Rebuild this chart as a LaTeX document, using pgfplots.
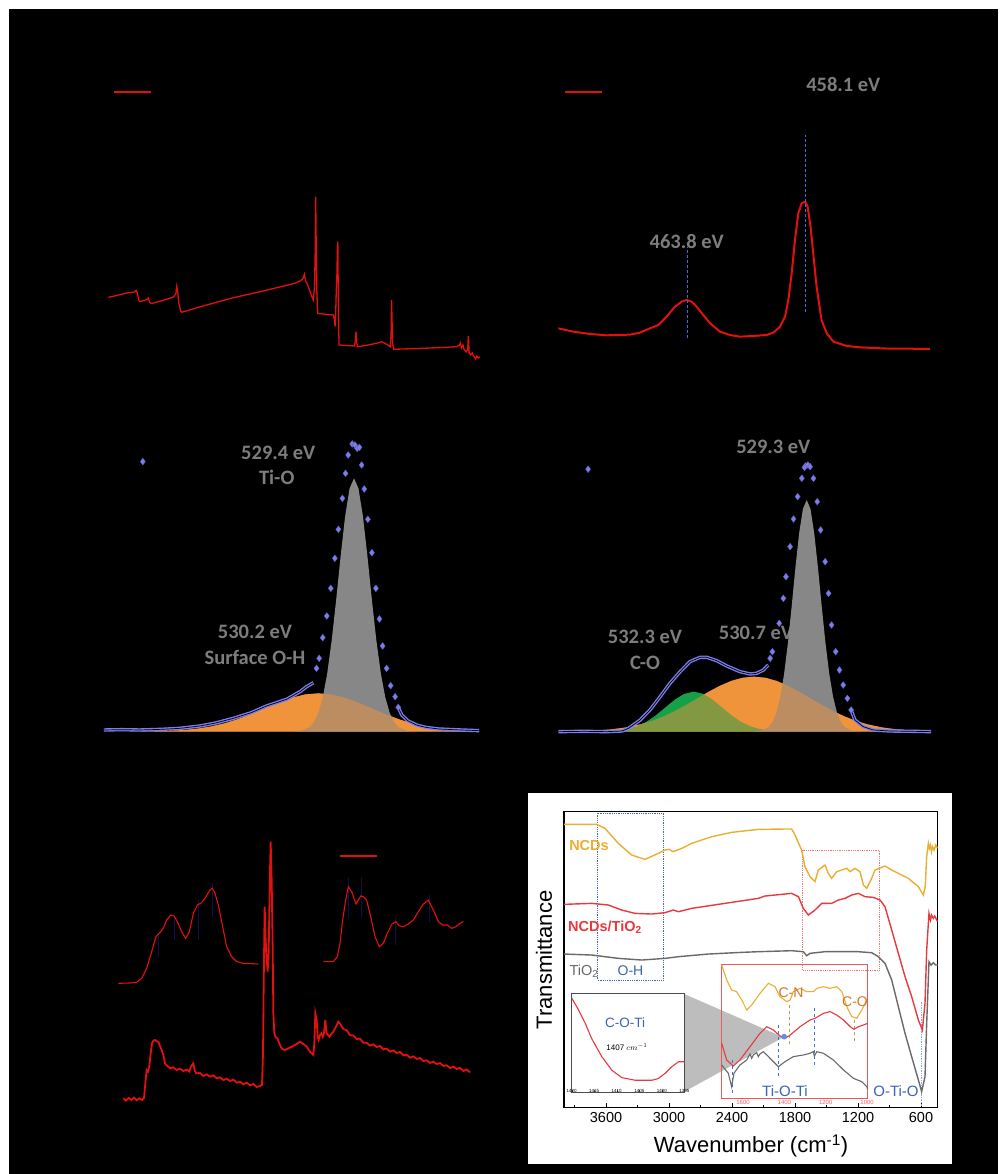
\documentclass[border=0pt]{standalone}
\usepackage{pgfplots}
\pgfplotsset{compat=1.18}
\usepackage{fontspec}
\setmainfont{Liberation Sans}
\newfontfamily\calb{Carlito}
\definecolor{xpsred}{RGB}{228,16,16}
\definecolor{grfill}{RGB}{135,135,135}
\definecolor{orfill}{RGB}{240,148,60}
\definecolor{gnfill}{RGB}{22,160,72}
\definecolor{bluept}{RGB}{125,125,240}
\definecolor{lblgray}{RGB}{125,125,125}
\definecolor{ncdor}{RGB}{234,174,48}
\definecolor{ncdred}{RGB}{232,58,62}
\definecolor{tigray}{RGB}{105,105,105}
\definecolor{txtblue}{RGB}{58,100,178}
\definecolor{cnbrown}{RGB}{205,120,40}
\definecolor{dashblue}{RGB}{60,110,220}
\definecolor{ohblue}{RGB}{70,100,170}
\definecolor{navyl}{RGB}{15,15,80}
\newcommand{\lbl}[1]{{\calb\bfseries\fontsize{20.5}{24}\selectfont\color{lblgray}#1}}
\pgfplotsset{
  xps/.style={anchor=south west, scale only axis, hide axis, x dir=reverse,
    legend style={draw=none, fill=none, inner sep=0pt, outer sep=0pt, anchor=west,
      nodes={inner sep=0pt, text=black, font=\fontsize{5}{6}\selectfont}},
  },
  lineleg/.style={legend image code/.code={\draw[##1] (0pt,0pt) -- (37pt,0pt);}},
  markleg/.style={legend image code/.code={\draw[##1] plot coordinates {(0pt,0pt)};}},
}
\begin{document}
\begin{tikzpicture}
\path[use as bounding box] (0pt,0pt) rectangle (999pt,1174pt);
\fill[white] (0pt,0pt) rectangle (999pt,1174pt);
\fill[black] (9pt,0pt) rectangle (998pt,1165pt);

%%%%%%%%%%%%%%%% (a) survey
\begin{axis}[xps, lineleg, at={(108.3pt,804pt)}, width=371.7pt, height=300pt,
  xmin=0, xmax=1200, ymin=30, ymax=330,
  legend style={at={(0.0126,0.927)}}]
\addplot[xpsred, line width=1.3pt] coordinates {
(1200,102.7) (1180,104) (1160,105.5) (1140,107) (1125,107.5) (1115,108) (1110,109.5) (1106,107) (1102,100) (1098,98.5) (1085,99.5) (1075,100.5) (1071,102) (1066,97.5) (1060,96.5) (1030,99) (1001,101.7) (990,103) (982,106) (979,113.5) (976,108) (972,96) (966,88.5) (963,87.7) (900,93.5) (800,102) (700,109) (600,116.5) (581,119) (572,121) (567,125.7) (563,119) (559,116.7) (550,110) (545,105) (538,100) (534,115) (532,150) (530.5,203.3) (529,160) (527,110) (524,86.7) (510,86) (490,85.5) (473,85) (470,80) (468,73.3) (466,85) (464,110) (462,125) (460.5,150) (459,158.3) (458,120) (456,70) (455,55) (430,54.5) (405,54) (402,60) (400.5,68.3) (399,60) (396,53.3) (360,55) (330,57) (317,58.3) (300,55.5) (290,53.3) (287,65) (285.5,100) (284,80) (282,56) (278,50.7) (200,51.5) (120,52.5) (75,53.3) (66,55) (63,57) (60,52) (55,55) (52,51) (45,48) (40,50) (37.5,64) (35,47) (30,45) (25,47) (22,44) (18,43) (14,41) (10,44) (5,42) (0,43)};
\addlegendentry{NCDs/TiO\textsubscript{2}}
\end{axis}

%%%%%%%%%%%%%%%% (b) Ti 2p
\begin{axis}[xps, lineleg, at={(558.3pt,804pt)}, width=373.7pt, height=300pt,
  xmin=452, xmax=470, ymin=70, ymax=970,
  legend style={at={(0.0153,0.928)}}]
\addplot[xpsred, line width=2pt] coordinates {
(470.00,195) (469.28,185) (468.47,178) (467.67,174) (466.55,176) (466.07,182) (465.58,195) (465.18,205) (464.78,230) (464.38,260) (464.06,275) (463.82,280) (463.58,275) (463.34,260) (463.02,235) (462.69,210) (462.21,185) (461.73,175) (461.25,170) (460.61,172) (459.96,175) (459.64,182) (459.32,200) (459.08,230) (458.92,280) (458.76,360) (458.60,460) (458.44,540) (458.28,570) (458.12,575) (457.99,560) (457.85,500) (457.72,420) (457.56,320) (457.32,220) (457.07,180) (456.75,155) (456.11,142) (455.47,138) (454.83,136) (454.02,134) (453.22,134) (452.10,133)};
\addlegendentry{Ti 2p}
\addplot[dashblue, densely dashed, line width=0.8pt, forget plot] coordinates {(458.1,245) (458.1,775)};
\addplot[dashblue, densely dashed, line width=0.8pt, forget plot] coordinates {(463.8,165) (463.8,440)};
\end{axis}
\node at (843.3pt,1089pt) {\lbl{458.1 eV}};
\node at (686.7pt,932.3pt) {\lbl{463.8 eV}};

%%%%%%%%%%%%%%%% (c) O 1s TiO2
\node at (278.3pt,721.3pt) {\lbl{529.4 eV}};
\node at (276.7pt,696.7pt) {\lbl{Ti-O}};
\node at (255pt,542.3pt) {\lbl{530.2 eV}};
\node at (255pt,516.3pt) {\lbl{Surface O-H}};
\begin{axis}[xps, markleg, at={(103.9pt,424pt)}, width=375.2pt, height=330pt,
  xmin=526.6, xmax=535, ymin=10, ymax=1000,
  legend style={at={(0.097,0.874)}}]
\addplot[fill=orfill, draw=none, forget plot] coordinates {(534.4,65) (534.0,65.8) (533.6,67.1) (533.2,70.1) (532.9,74.2) (532.6,80.6) (532.3,89.9) (532.0,102.4) (531.7,117.7) (531.4,134.8) (531.1,151.8) (530.8,166.5) (530.5,176.5) (530.2,180) (529.9,176.5) (529.6,166.5) (529.3,151.8) (529.0,134.8) (528.7,117.7) (528.4,102.4) (528.1,89.9) (527.8,80.6) (527.5,74.2) (527.2,70.1) (526.8,67.1) (526.4,65.8) (526.0,65)};
\addplot[fill=grfill, draw=none, forget plot] coordinates {(530.8,65) (530.6,67.1) (530.4,77.8) (530.3,92.9) (530.2,120.8) (530.1,167.9) (530.0,240) (529.9,338.8) (529.8,460.4) (529.7,591.7) (529.6,710.5) (529.5,794.6) (529.4,825) (529.3,794.6) (529.2,710.5) (529.1,591.7) (529.0,460.4) (528.9,338.8) (528.8,240) (528.7,167.9) (528.6,120.8) (528.5,92.9) (528.4,77.8) (528.2,67.1) (528.0,65)};
\addplot[fill=orfill, fill opacity=0.5, draw=none, forget plot] coordinates {(534.4,65) (534.0,65.8) (533.6,67.1) (533.2,70.1) (532.9,74.2) (532.6,80.6) (532.3,89.9) (532.0,102.4) (531.7,117.7) (531.4,134.8) (531.1,151.8) (530.8,166.5) (530.5,176.5) (530.2,180) (529.9,176.5) (529.6,166.5) (529.3,151.8) (529.0,134.8) (528.7,117.7) (528.4,102.4) (528.1,89.9) (527.8,80.6) (527.5,74.2) (527.2,70.1) (526.8,67.1) (526.4,65.8) (526.0,65)};
\addplot[bluept, line width=3.4pt, forget plot] coordinates {(535,70) (534.6,71) (534.2,70) (533.7,72) (533.3,75) (532.85,82) (532.5,91) (532.1,105) (531.7,122) (531.36,142) (530.91,162) (530.61,185) (530.46,200) (530.31,212)};
\addplot[black, line width=0.7pt, forget plot] coordinates {(535,70) (534.6,71) (534.2,70) (533.7,72) (533.3,75) (532.85,82) (532.5,91) (532.1,105) (531.7,122) (531.36,142) (530.91,162) (530.61,185) (530.46,200) (530.31,212)};
\addplot[bluept, line width=3.4pt, forget plot] coordinates {(528.41,138) (528.33,115) (528.2,98) (528.0,85) (527.8,78) (527.5,73) (527.0,70) (526.6,68)};
\addplot[black, line width=0.7pt, forget plot] coordinates {(528.41,138) (528.33,115) (528.2,98) (528.0,85) (527.8,78) (527.5,73) (527.0,70) (526.6,68)};
\addplot[only marks, mark=diamond*, mark size=3.4pt, mark options={fill=bluept, draw=bluept!75!black, line width=0.4pt}] coordinates {
(530.24,255) (530.18,285) (530.10,347) (530.01,412) (529.92,495) (529.83,585) (529.75,672) (529.66,765) (529.59,840) (529.53,895) (529.44,928) (529.38,925) (529.33,915) (529.28,918) (529.23,865) (529.17,793) (529.09,702) (529.0,602) (528.91,495) (528.83,403) (528.76,322) (528.67,255) (528.58,203) (528.48,170) (528.41,138)};
\addlegendentry{O 1s}
\end{axis}

%%%%%%%%%%%%%%%% (d) O 1s NCDs/TiO2
\node at (773.3pt,727.3pt) {\lbl{529.3 eV}};
\node at (645pt,536.7pt) {\lbl{532.3 eV}};
\node at (645pt,511.3pt) {\lbl{C-O}};
\node at (756pt,540.7pt) {\lbl{530.7 eV}};
\begin{axis}[xps, markleg, at={(554.3pt,424pt)}, width=376.7pt, height=330pt,
  xmin=526, xmax=536, ymin=10, ymax=1000,
  legend style={at={(0.083,0.851)}}]
\addplot[fill=orfill, draw=none, forget plot] coordinates {(535.9,65) (535.4,66.2) (534.9,68.3) (534.5,71.7) (534.1,77.6) (533.7,87.3) (533.4,97.7) (533.1,110.9) (532.8,126.9) (532.5,145.3) (532.2,165.1) (531.9,184.8) (531.6,202.8) (531.3,217.3) (531.0,226.7) (530.7,230) (530.4,226.7) (530.1,217.3) (529.8,202.8) (529.5,184.8) (529.2,165.1) (528.9,145.3) (528.6,126.9) (528.3,110.9) (528.0,97.7) (527.7,87.3) (527.3,77.6) (526.9,71.7) (526.5,68.3) (526.0,65)};
\addplot[fill=gnfill, draw=none, forget plot] coordinates {(534.7,65) (534.3,68.4) (534.05,72.9) (533.8,81.2) (533.55,94.9) (533.3,114.3) (533.05,137.8) (532.8,161.1) (532.55,178.5) (532.3,185) (532.05,178.5) (531.8,161.1) (531.55,137.8) (531.3,114.3) (531.05,94.9) (530.8,81.2) (530.55,72.9) (530.3,68.4) (529.9,65.7) (529.5,65)};
\addplot[fill=grfill, draw=none, forget plot] coordinates {(530.7,65) (530.5,67.7) (530.3,79.7) (530.2,95.5) (530.1,123.9) (530.0,170) (529.9,238.1) (529.8,329.8) (529.7,439.6) (529.6,556.4) (529.5,660.6) (529.4,733.6) (529.3,760) (529.2,733.6) (529.1,660.6) (529.0,556.4) (528.9,439.6) (528.8,329.8) (528.7,238.1) (528.6,170) (528.5,123.9) (528.4,95.5) (528.3,79.7) (528.1,67.7) (527.9,65)};
\addplot[fill=orfill, fill opacity=0.5, draw=none, forget plot] coordinates {(535.9,65) (535.4,66.2) (534.9,68.3) (534.5,71.7) (534.1,77.6) (533.7,87.3) (533.4,97.7) (533.1,110.9) (532.8,126.9) (532.5,145.3) (532.2,165.1) (531.9,184.8) (531.6,202.8) (531.3,217.3) (531.0,226.7) (530.7,230) (530.4,226.7) (530.1,217.3) (529.8,202.8) (529.5,184.8) (529.2,165.1) (528.9,145.3) (528.6,126.9) (528.3,110.9) (528.0,97.7) (527.7,87.3) (527.3,77.6) (526.9,71.7) (526.5,68.3) (526.0,65)};
\addplot[bluept, line width=3.4pt, forget plot] coordinates {(535.89,65) (535.2,66) (534.6,65) (534.2,67) (534.03,75) (533.72,100) (533.46,130) (533.19,170) (532.93,210) (532.66,245) (532.40,275) (532.13,288) (531.95,288) (531.69,278) (531.42,262) (531.07,245) (530.80,238) (530.63,240) (530.45,250) (530.32,265)};
\addplot[black, line width=0.7pt, forget plot] coordinates {(535.89,65) (535.2,66) (534.6,65) (534.2,67) (534.03,75) (533.72,100) (533.46,130) (533.19,170) (532.93,210) (532.66,245) (532.40,275) (532.13,288) (531.95,288) (531.69,278) (531.42,262) (531.07,245) (530.80,238) (530.63,240) (530.45,250) (530.32,265)};
\addplot[bluept, line width=3.4pt, forget plot] coordinates {(528.12,130) (528.02,100) (527.80,80) (527.53,70) (527.09,67) (526.5,66) (525.98,65)};
\addplot[black, line width=0.7pt, forget plot] coordinates {(528.12,130) (528.02,100) (527.80,80) (527.53,70) (527.09,67) (526.5,66) (525.98,65)};
\addplot[only marks, mark=diamond*, mark size=3.4pt, mark options={fill=bluept, draw=bluept!75!black, line width=0.4pt}] coordinates {
(530.27,285) (530.21,305) (530.03,390) (529.92,465) (529.85,530) (529.74,620) (529.65,703) (529.54,770) (529.43,825) (529.36,858) (529.33,862) (529.27,865) (529.21,860) (529.12,825) (529.02,755) (528.93,670) (528.81,575) (528.72,480) (528.64,385) (528.53,305) (528.43,250) (528.33,205) (528.22,165) (528.12,130)};
\addlegendentry{O 1s}
\end{axis}

%%%%%%%%%%%%%%%% (e)
\begin{axis}[xps, lineleg, x dir=normal, at={(100pt,54pt)}, width=400pt, height=300pt,
  xmin=0, xmax=1200, ymin=100, ymax=1000,
  legend style={at={(0.5975,0.88)}}]
\addplot[xpsred, line width=1.8pt] coordinates {
(70,165) (78,158) (86,166) (94,160) (102,167) (110,159) (118,165) (126,160) (132,166) (136,210) (140,250) (144,245) (148,262) (152,300) (156,330) (160,338) (165,340) (170,336) (175,335) (180,322) (185,310) (190,295) (195,270) (200,264) (210,255) (220,258) (230,250) (240,254) (250,247) (260,251) (268,245) (272,258) (276,265) (280,270) (284,250) (288,240) (300,241) (310,232) (320,237) (330,230) (340,234) (350,225) (360,228) (370,220) (380,224) (390,217) (400,221) (410,212) (420,215) (430,207) (440,212) (450,204) (460,208) (470,199) (480,202) (486,205) (489,300) (491,500) (494,740) (497,640) (500,580) (503,545) (506,600) (509,800) (512,935) (515,820) (518,620) (520,420) (523,360) (527,348) (532,345) (538,330) (543,318) (548,312) (555,310) (565,315) (575,320) (590,328) (600,335) (610,328) (620,320) (630,305) (640,295) (643,330) (646,420) (650,400) (653,350) (656,340) (660,355) (664,360) (668,350) (672,360) (676,400) (680,360) (688,350) (700,365) (708,380) (715,395) (720,389) (730,373) (740,369) (750,355) (760,353) (770,343) (780,344) (790,332) (800,332) (810,323) (820,327) (830,319) (840,322) (850,312) (860,314) (870,305) (880,309) (890,301) (900,304) (910,294) (920,296) (930,287) (940,291) (950,283) (960,286) (970,277) (980,279) (990,271) (1000,275) (1010,268) (1020,271) (1030,262) (1040,264) (1050,256) (1060,260) (1070,253) (1080,256.5) (1090,247) (1100,251.5) (1110,243)};
\addlegendentry{NCDs/TiO\textsubscript{2}}
\addplot[navyl, line width=0.4pt, forget plot] coordinates {(175,590) (175,660)};
\addplot[navyl, line width=0.4pt, forget plot] coordinates {(222,640) (222,715)};
\addplot[navyl, line width=0.4pt, forget plot] coordinates {(295,640) (295,760)};
\addplot[navyl, line width=0.4pt, forget plot] coordinates {(337,710) (337,810)};
\addplot[navyl, line width=0.4pt, forget plot] coordinates {(745,705) (745,825)};
\addplot[navyl, line width=0.4pt, forget plot] coordinates {(783,705) (783,830)};
\addplot[navyl, line width=0.4pt, forget plot] coordinates {(887,625) (887,705)};
\addplot[navyl, line width=0.4pt, forget plot] coordinates {(987,695) (987,775)};
\addplot[xpsred, line width=1.1pt, forget plot] coordinates {(55,510) (90,511) (110,513) (125,525) (140,555) (155,605) (168,650) (178,660) (190,675) (200,700) (212,715) (222,712) (232,695) (245,665) (257,645) (268,665) (280,720) (292,745) (305,752) (318,770) (330,790) (337,795) (345,780) (355,745) (368,680) (380,620) (395,590) (410,575) (430,570) (475,568)};
\addplot[xpsred, line width=1.1pt, forget plot] coordinates {(670,575) (700,575) (712,590) (720,630) (728,700) (737,760) (745,800) (755,785) (768,748) (782,772) (790,770) (800,760) (812,710) (825,650) (838,620) (850,630) (862,660) (876,688) (888,695) (898,682) (910,680) (925,688) (940,700) (955,725) (970,748) (985,760) (1000,730) (1015,695) (1028,685) (1042,685) (1055,675) (1068,680) (1080,690) (1090,695)};
\end{axis}

%%%%%%%%%%%%%%%% (f) FTIR
\fill[white] (528.3pt,10.3pt) rectangle (952.3pt,380.7pt);
\begin{axis}[anchor=south west, scale only axis, at={(564pt,66.3pt)}, width=373.7pt, height=296pt,
  xmin=441, xmax=4000, x dir=reverse, ymin=-953, ymax=-65,
  xtick={600,1200,...,3600}, minor xtick={900,1500,...,3900}, ytick=\empty,
  tick align=inside, xtick pos=left, major tick length=5pt, minor tick length=3pt,
  axis line style={line width=1.4pt}, every tick/.style={black, line width=1pt},
  xticklabel style={font=\fontsize{14.5}{16}\selectfont, yshift=-1pt},
  /pgf/number format/assume math mode=true, /pgf/number format/1000 sep={}]
\addplot[ohblue, densely dotted, line width=0.8pt] coordinates {(3679,-70) (3054,-70) (3054,-570) (3679,-570) (3679,-70)};
\addplot[ncdred!70, densely dotted, line width=0.8pt] coordinates {(1727,-180) (997,-180) (997,-540) (1727,-540) (1727,-180)};
\addplot[dashblue!60, densely dotted, line width=0.7pt] coordinates {(594,-635) (594,-950)};
\addplot[ncdor, line width=1.4pt] coordinates {(4000,-103) (3689,-103) (3610,-115) (3483,-160) (3356,-195) (3229,-208) (3102,-190) (3040,-180) (3000,-178) (2959,-185) (2879,-175) (2784,-160) (2594,-140) (2403,-127) (2149,-118) (1900,-117) (1832,-117) (1800,-135) (1737,-180) (1705,-230) (1657,-260) (1610,-275) (1578,-240) (1514,-225) (1483,-250) (1451,-265) (1403,-245) (1356,-240) (1308,-235) (1276,-245) (1229,-235) (1181,-245) (1149,-285) (1117,-295) (1070,-265) (1038,-240) (943,-228) (879,-240) (721,-265) (625,-290) (578,-315) (560,-290) (546,-200) (530,-160) (520,-175) (510,-165) (500,-185) (490,-170) (475,-180) (460,-165) (441,-175)};
\addplot[ncdred, line width=1.4pt] coordinates {(4000,-343) (3737,-340) (3578,-345) (3451,-360) (3324,-370) (3165,-372) (3038,-368) (2959,-360) (2911,-365) (2784,-355) (2467,-340) (2149,-325) (2086,-318) (1832,-310) (1767,-320) (1721,-355) (1673,-375) (1610,-360) (1546,-340) (1451,-340) (1387,-330) (1324,-325) (1260,-315) (1197,-310) (1133,-320) (1054,-322) (990,-330) (943,-350) (879,-420) (816,-490) (752,-560) (689,-620) (625,-690) (587,-720) (562,-640) (546,-480) (524,-370) (510,-390) (500,-375) (483,-385) (470,-378) (441,-395)};
\addplot[tigray, line width=1.4pt] coordinates {(4000,-492) (3737,-495) (3483,-505) (3260,-510) (3038,-505) (2911,-500) (2625,-492) (2308,-487) (2149,-485) (1832,-482) (1721,-485) (1689,-497) (1657,-490) (1514,-485) (1197,-485) (1070,-488) (1006,-500) (943,-520) (879,-570) (816,-650) (752,-730) (689,-800) (625,-870) (594,-905) (562,-860) (546,-700) (524,-515) (505,-525) (483,-518) (460,-525) (441,-525)};
\end{axis}
\fill[black!41, fill opacity=0.62] (684.3pt,180pt) -- (684.3pt,82.3pt) -- (783.3pt,136.7pt) -- cycle;
\begin{axis}[anchor=south west, scale only axis, hide axis, at={(721.7pt,75pt)}, width=146pt, height=134pt,
  xmin=997, xmax=1703, x dir=reverse, ymin=-507, ymax=-105, clip=false]
\addplot[ncdred!85, line width=1pt] coordinates {(997,-507) (1703,-507) (1703,-105) (997,-105) (997,-507)};
\addplot[dashblue, dashed, line width=0.6pt] coordinates {(1652,-390) (1652,-490)};
\addplot[dashblue, dashed, line width=0.6pt] coordinates {(1429,-285) (1429,-440)};
\addplot[dashblue, dashed, line width=0.6pt] coordinates {(1256,-235) (1256,-410)};
\addplot[cnbrown!80, dashed, line width=0.6pt] coordinates {(1376,-225) (1376,-345)};
\addplot[cnbrown!80, dashed, line width=0.6pt] coordinates {(1063,-270) (1063,-335)};
\addplot[ncdor, line width=1.1pt] coordinates {(1703,-105) (1679,-150) (1655,-180) (1631,-185) (1606,-210) (1582,-240) (1558,-225) (1518,-190) (1477,-160) (1445,-170) (1421,-200) (1388,-215) (1372,-210) (1357,-185) (1324,-175) (1292,-185) (1260,-185) (1243,-175) (1211,-170) (1179,-175) (1147,-170) (1122,-185) (1098,-230) (1074,-260) (1050,-265) (1026,-240) (1001,-210)};
\addplot[ncdred, line width=1.1pt] coordinates {(1703,-340) (1679,-390) (1647,-408) (1615,-390) (1566,-350) (1518,-310) (1485,-290) (1453,-300) (1421,-318) (1397,-325) (1372,-315) (1324,-290) (1276,-270) (1252,-265) (1211,-250) (1179,-245) (1147,-255) (1114,-270) (1082,-290) (1063,-298) (1042,-290) (1018,-285) (997,-280)};
\addplot[tigray, line width=1.1pt] coordinates {(1703,-405) (1671,-430) (1655,-470) (1644,-430) (1615,-405) (1582,-390) (1566,-372) (1558,-385) (1550,-375) (1534,-368) (1526,-380) (1518,-372) (1502,-365) (1485,-375) (1453,-395) (1429,-410) (1397,-395) (1357,-380) (1308,-375) (1276,-370) (1260,-365) (1255,-378) (1243,-365) (1211,-370) (1163,-390) (1114,-420) (1066,-445) (1026,-455) (1001,-470) (997,-478)};
\addplot[only marks, mark=*, mark size=2.6pt, color=dashblue!80] coordinates {(1401,-320)};
\node[text=ncdred!80, font=\fontsize{6}{7}\selectfont, below, inner sep=1pt] at (axis cs:1600,-507) {1600};
\node[text=ncdred!80, font=\fontsize{6}{7}\selectfont, below, inner sep=1pt] at (axis cs:1400,-507) {1400};
\node[text=ncdred!80, font=\fontsize{6}{7}\selectfont, below, inner sep=1pt] at (axis cs:1200,-507) {1200};
\node[text=ncdred!80, font=\fontsize{6}{7}\selectfont, below, inner sep=1pt] at (axis cs:1000,-507) {1000};
\end{axis}
\begin{axis}[anchor=south west, scale only axis, at={(571.7pt,82pt)}, width=112.6pt, height=99pt,
  xmin=1395, xmax=1420, x dir=reverse, ymin=-905, ymax=-610,
  axis background/.style={fill=white}, axis line style={black!70, line width=0.6pt},
  xtick={1395,1400,...,1420}, ytick=\empty, tick align=inside, xtick pos=left,
  major tick length=1.5pt, every tick/.style={black!70, line width=0.4pt},
  xticklabel style={font=\fontsize{4.5}{5}\selectfont, yshift=6.5pt},
  /pgf/number format/assume math mode=true, /pgf/number format/1000 sep={}]
\addplot[ncdred, line width=1.1pt] coordinates {(1420,-625) (1418.5,-660) (1417,-700) (1415.6,-745) (1413.3,-800) (1411.1,-840) (1408.9,-862) (1405.9,-870) (1402.2,-870) (1400.8,-865) (1399.3,-850) (1397.8,-830) (1396.3,-815) (1395,-815)};
\end{axis}
\node[ncdor] at (589pt,328pt) {\bfseries\fontsize{14.5}{17}\selectfont NCDs};
\node[ncdred] at (605pt,247pt) {\bfseries\fontsize{14.5}{17}\selectfont NCDs/TiO\textsubscript{2}};
\node[tigray] at (584pt,203pt) {\fontsize{14.5}{17}\selectfont TiO\textsubscript{2}};
\node[txtblue] at (630.5pt,203pt) {\fontsize{14}{17}\selectfont O-H};
\node[txtblue] at (785pt,83pt) {\fontsize{15}{17}\selectfont Ti-O-Ti};
\node[txtblue] at (896pt,83pt) {\fontsize{15}{17}\selectfont O-Ti-O};
\node[cnbrown] at (791pt,181.5pt) {\fontsize{14}{17}\selectfont C-N};
\node[cnbrown] at (855pt,172.5pt) {\fontsize{14}{17}\selectfont C-O};
\node[txtblue] at (625pt,151.5pt) {\fontsize{13.5}{16}\selectfont C-O-Ti};
\node at (627pt,127pt) {\fontsize{8}{10}\selectfont 1407 $cm^{-1}$};
\node[rotate=90] at (544pt,214pt) {\fontsize{22}{26}\selectfont Transmittance};
\node at (751pt,28pt) {\fontsize{22}{26}\selectfont Wavenumber (cm\textsuperscript{-1})};
\end{tikzpicture}
\end{document}
